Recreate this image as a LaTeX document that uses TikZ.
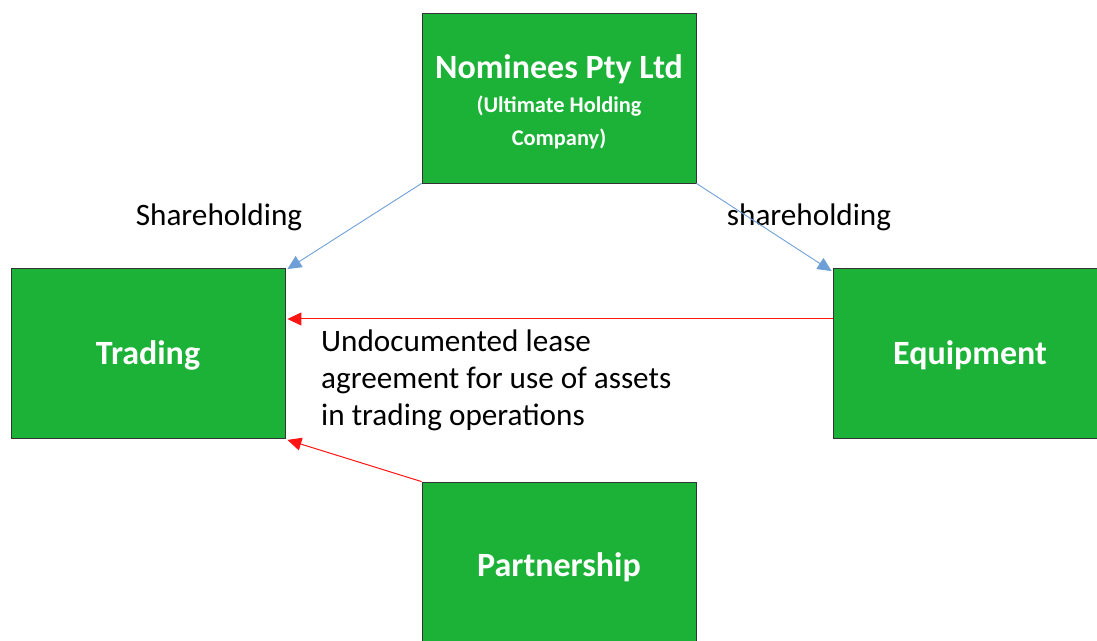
\documentclass[tikz,border=0pt]{standalone}
\usepackage{fontspec}
\setmainfont{Carlito}
\usepackage{tikz}
\usetikzlibrary{arrows.meta, positioning}
\usepackage{xcolor}
\definecolor{boxgreen}{RGB}{27,178,55}
\definecolor{sharecol}{RGB}{110,160,215}
\definecolor{leasecol}{RGB}{255,20,20}

\begin{document}
\begin{tikzpicture}[x=1pt, y=1pt, >={Triangle[length=14pt, width=13pt]}]
    \tikzstyle{company} = [draw=black!80, line width=0.8pt, fill=boxgreen,
    minimum width=274pt, minimum height=170pt, text=white, align=center,
    font=\bfseries\fontsize{34}{40}\selectfont]
    \tikzstyle{share} = [->, draw=sharecol, line width=0.9pt]
    \tikzstyle{lease} = [->, color=leasecol, line width=1pt]
    \tikzstyle{plain} = [font=\fontsize{31.2}{37}\selectfont, inner sep=0pt]
    \useasboundingbox (0,0) rectangle (1097,640);
    \clip (0,0) rectangle (1097,640);
    \node [company] at (559,542) (nominees) {\rule{0pt}{32pt}Nominees Pty Ltd\\[-6pt]
      {\fontsize{22.4}{33}\selectfont (Ultimate Holding}\\[-7pt]
      {\fontsize{22.4}{33}\selectfont Company)}};
    \node [company] at (148,286.5) (trading) {\rule{0pt}{28pt}Trading};
    \node [company] at (970,286.5) (equipment) {\rule{0pt}{28pt}Equipment};
    \node [company] at (559,73) (partner) {Partnership};
    \node [plain] at (219,423) (sharel) {Shareholding};
    \node [plain] at (809,423) (sharer) {shareholding};
    \node [plain, anchor=west, align=left] at (321,260) (leasetxt)
      {Undocumented lease\\agreement for use of assets\\in trading operations};
    \draw [share] (nominees.south west) to ([xshift=2pt, yshift=-1pt]trading.north east);
    \draw [share] (nominees.south east) to ([xshift=-1pt, yshift=-3pt]equipment.north west);
    \draw [lease] ([yshift=34.5pt]equipment.west) to ([xshift=2pt, yshift=34.5pt]trading.east);
    \draw [lease] (partner.north west) to ([xshift=2pt, yshift=-1pt]trading.south east);
\end{tikzpicture}
\end{document}
